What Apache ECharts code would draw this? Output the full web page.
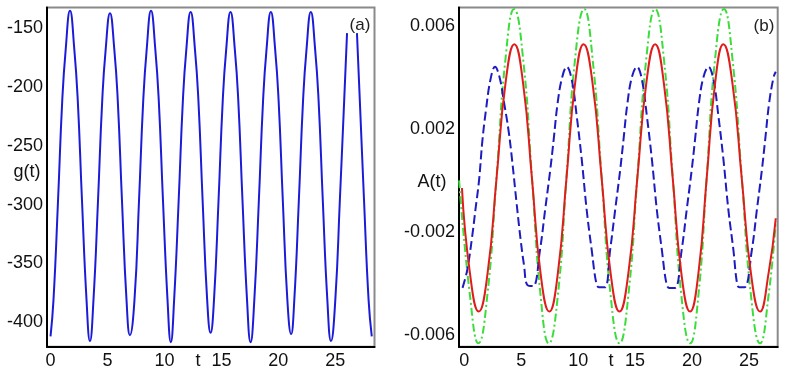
<!DOCTYPE html>
<html>
<head>
<meta charset="utf-8">
<script src="https://cdn.jsdelivr.net/npm/echarts@6/dist/echarts.min.js"></script>
<style>
  html, body { margin: 0; padding: 0; background: #fff; }
  #chart { width: 795px; height: 374px; }
</style>
</head>
<body>
<div id="chart"></div>
<script>
// panel (a): g(t), [t, g]; null marks the gap at the last peak
const gCurve = [
  [0, -412], [0.26, -381], [0.66, -296], [1.03, -211], [1.33, -168], [1.71, -135],
  [2.09, -168], [2.39, -211], [2.76, -296], [3.16, -381], [3.46, -416],
  [3.77, -381], [4.17, -296], [4.54, -211], [4.84, -168], [5.22, -137],
  [5.60, -168], [5.90, -211], [6.27, -296], [6.67, -381], [6.97, -411],
  [7.37, -381], [7.77, -296], [8.14, -211], [8.44, -168], [8.82, -135],
  [9.20, -168], [9.50, -211], [9.87, -296], [10.27, -381], [10.56, -417],
  [10.85, -381], [11.25, -296], [11.62, -211], [11.92, -168], [12.30, -136],
  [12.68, -168], [12.98, -211], [13.35, -296], [13.75, -381], [14.05, -409],
  [14.35, -381], [14.75, -296], [15.12, -211], [15.42, -168], [15.80, -136],
  [16.18, -168], [16.48, -211], [16.85, -296], [17.25, -381], [17.56, -417],
  [17.89, -381], [18.29, -296], [18.66, -211], [18.96, -168], [19.34, -136],
  [19.72, -168], [20.02, -211], [20.39, -296], [20.79, -381], [21.12, -410],
  [21.40, -381], [21.80, -296], [22.17, -211], [22.47, -168], [22.85, -136],
  [23.23, -168], [23.53, -211], [23.90, -296], [24.30, -381], [24.62, -416],
  [25.00, -381], [25.40, -296], [25.78, -211], [26.03, -154], [26.47, null],
  [26.90, -154], [27.15, -211], [27.52, -296], [27.92, -381], [28.20, -412]
];

// panel (b): A(t) in units of 1e-3
const blueA = [
  [-0.15, -4.17], [0.25, -3.5], [0.69, -2.2], [0.98, -1.15], [1.3, 0.0], [1.6, 1.57], [1.9, 2.7], [2.3, 3.9], [2.70, 4.4],
  [3.1, 4.0], [3.5, 3.0], [3.9, 1.9], [4.2, 0.79], [4.6, -0.9], [4.95, -2.3], [5.25, -3.3], [5.55, -4.06], [6.05, -4.1],
  [6.65, -2.7], [7.1, -1.15], [7.55, 0.4], [7.85, 1.57], [8.2, 3.0], [8.6, 4.0], [9.0, 4.4],
  [9.44, 3.9], [9.88, 2.47], [10.32, 0.79], [10.75, -1.15], [11.19, -2.7], [11.6, -4.0], [11.85, -4.15], [12.35, -4.15],
  [12.81, -2.7], [13.25, -1.15], [13.69, 0.4], [13.98, 1.57], [14.33, 3.0], [14.72, 4.0], [15.16, 4.4],
  [15.6, 3.9], [16.04, 2.47], [16.48, 0.79], [16.91, -1.15], [17.35, -2.7], [17.75, -4.0], [18.0, -4.17], [18.5, -4.17],
  [19.09, -2.7], [19.53, -1.15], [19.97, 0.4], [20.26, 1.57], [20.61, 3.0], [21.0, 4.0], [21.44, 4.4],
  [21.88, 3.9], [22.32, 2.47], [22.76, 0.79], [23.19, -1.15], [23.63, -2.7], [23.95, -4.0], [24.15, -4.15], [24.6, -4.15],
  [25.25, -2.7], [25.69, -1.15], [26.13, 0.4], [26.42, 1.57], [26.77, 3.0], [27.16, 4.0], [27.35, 4.21]
];
const redA = [
  [-0.2, -0.3], [0.5, -3.6], [1.27, -5.09], [2.05, -3.6], [2.84, 0.1], [3.62, 3.75], [4.40, 5.28],
  [5.17, 3.75], [5.94, 0.1], [6.70, -3.6], [7.47, -5.09], [8.22, -3.6], [8.98, 0.1], [9.73, 3.75], [10.48, 5.28],
  [11.27, 3.75], [12.06, 0.1], [12.85, -3.6], [13.63, -5.09], [14.41, -3.6], [15.2, 0.1], [15.98, 3.75], [16.76, 5.28],
  [17.53, 3.75], [18.3, 0.1], [19.06, -3.6], [19.83, -5.09], [20.56, -3.6], [21.29, 0.1], [22.02, 3.75], [22.75, 5.28],
  [23.55, 3.75], [24.36, 0.1], [25.17, -3.6], [25.97, -5.09], [26.72, -3.6], [27.35, -1.47]
];
const greenA = [
  [-0.45, 0.0], [0.5, -4.45], [1.25, -6.32], [2.03, -4.45], [2.84, 0.15], [3.62, 4.7], [4.38, 6.64],
  [5.17, 4.7], [5.94, 0.15], [6.70, -4.45], [7.43, -6.32], [8.22, -4.45], [8.98, 0.15], [9.73, 4.7], [10.53, 6.64],
  [11.27, 4.7], [12.06, 0.15], [12.85, -4.45], [13.63, -6.32], [14.41, -4.45], [15.2, 0.15], [15.98, 4.7], [16.76, 6.64],
  [17.53, 4.7], [18.3, 0.15], [19.06, -4.45], [19.83, -6.32], [20.56, -4.45], [21.29, 0.15], [22.02, 4.7], [22.8, 6.64],
  [23.55, 4.7], [24.36, 0.15], [25.17, -4.45], [25.97, -6.32], [26.72, -4.45], [27.35, -1.6]
];

const xTicks = [0, 5, 10, 15, 20, 25];
const gTicks = [-400, -350, -300, -250, -200, -150];
const aTicks = [-0.006, -0.002, 0.002, 0.006];

const toUnits = (arr) => arr.map(p => [p[0], p[1] / 1000]);

const FONT = "'Liberation Sans', Arial, sans-serif";
const labelStyle = { color: "#111", fontSize: 18, fontFamily: FONT };

const axisLineBlack = { show: true, onZero: false, lineStyle: { color: "#000", width: 2 } };

const myChart = echarts.init(document.getElementById("chart"), null, { renderer: "canvas" });

const option = {
  animation: false,
  backgroundColor: "#fff",
  grid: [
    { left: 47, top: 7.5, right: 420.5, bottom: 27.3, show: true, borderColor: "#8a8a8a", borderWidth: 2 },
    { left: 459, top: 7.5, right: 17.3, bottom: 27.3, show: true, borderColor: "#8a8a8a", borderWidth: 2 }
  ],
  xAxis: [
    {
      gridIndex: 0, type: "value", min: -0.31, max: 28.44,
      axisLine: axisLineBlack, axisTick: { show: false }, splitLine: { show: false },
      axisLabel: { ...labelStyle, margin: 5, customValues: xTicks }
    },
    {
      gridIndex: 1, type: "value", min: -0.46, max: 27.52,
      axisLine: axisLineBlack, axisTick: { show: false }, splitLine: { show: false },
      axisLabel: { ...labelStyle, margin: 5, customValues: xTicks }
    }
  ],
  yAxis: [
    {
      gridIndex: 0, type: "value", min: -420.8, max: -132.2,
      axisLine: axisLineBlack, axisTick: { show: false }, splitLine: { show: false },
      axisLabel: { ...labelStyle, margin: 4, customValues: gTicks }
    },
    {
      gridIndex: 1, type: "value", min: -0.00645, max: 0.0067,
      axisLine: axisLineBlack, axisTick: { show: false }, splitLine: { show: false },
      axisLabel: { ...labelStyle, margin: 4, customValues: aTicks, formatter: v => v.toFixed(3) }
    }
  ],
  series: [
    {
      name: "g(t)", type: "line", xAxisIndex: 0, yAxisIndex: 0,
      data: gCurve, showSymbol: false, smooth: 0.5, connectNulls: false,
      lineStyle: { color: "#1c1cd8", width: 2 }
    },
    {
      name: "green", type: "line", xAxisIndex: 1, yAxisIndex: 1,
      data: toUnits(greenA), showSymbol: false, smooth: 0.5,
      lineStyle: { color: "#3ddc3d", width: 2, type: [8, 3, 2, 3] }
    },
    {
      name: "blue", type: "line", xAxisIndex: 1, yAxisIndex: 1,
      data: toUnits(blueA), showSymbol: false, smooth: 0.4,
      lineStyle: { color: "#1c1cc0", width: 2, type: [9, 4] }
    },
    {
      name: "red", type: "line", xAxisIndex: 1, yAxisIndex: 1,
      data: toUnits(redA), showSymbol: false, smooth: 0.5,
      lineStyle: { color: "#e01c1c", width: 2 }
    }
  ],
  graphic: [
    { type: "text", x: 360, y: 25, style: { text: "(a)", fill: "#222", font: "17px " + FONT, align: "center", verticalAlign: "middle" } },
    { type: "text", x: 764, y: 26, style: { text: "(b)", fill: "#222", font: "17px " + FONT, align: "center", verticalAlign: "middle" } },
    { type: "text", x: 27, y: 172, style: { text: "g(t)", fill: "#111", font: "18px " + FONT, align: "center", verticalAlign: "middle" } },
    { type: "text", x: 432, y: 182, style: { text: "A(t)", fill: "#111", font: "18px " + FONT, align: "center", verticalAlign: "middle" } },
    { type: "text", x: 198, y: 361, style: { text: "t", fill: "#111", font: "18px " + FONT, align: "center", verticalAlign: "middle" } },
    { type: "text", x: 611, y: 361, style: { text: "t", fill: "#111", font: "18px " + FONT, align: "center", verticalAlign: "middle" } }
  ]
};

myChart.setOption(option);
window.addEventListener("resize", () => myChart.resize());
</script>
</body>
</html>
